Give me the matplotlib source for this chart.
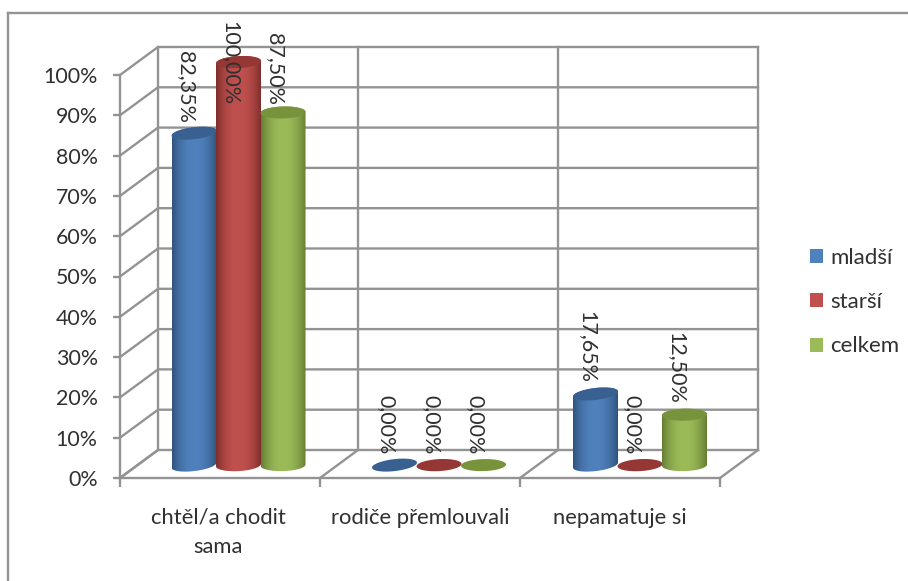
import numpy as np
import matplotlib
matplotlib.use('Agg')
import matplotlib.pyplot as plt
from matplotlib.patches import Patch, PathPatch, Polygon
from matplotlib.path import Path

categories = ['chtěl/a chodit\nsama', 'rodiče přemlouvali', 'nepamatuje si']
series_names = ['mladší', 'starší', 'celkem']
mladsi = [82.35, 0.00, 17.65]
starsi = [100.00, 0.00, 0.00]
celkem = [87.50, 0.00, 12.50]
y_ticks = [0, 10, 20, 30, 40, 50, 60, 70, 80, 90, 100]

W, H = 908, 581
colors = ['#4f81bd', '#c0504d', '#9bbb59']
dark = ['#386192', '#953735', '#77933c']
grid_c = '#939393'
text_c = '#303030'

plt.rcParams['font.family'] = ['Lato', 'DejaVu Sans']

# front plane of the 3d box is the axes: x 120-720 px, y 478-75 px
left, right, bottom, top = 120, 720, 478, 75
fig = plt.figure(figsize=(W / 100, H / 100), dpi=100)
ax = fig.add_axes([left / W, 1 - bottom / H, (right - left) / W, (bottom - top) / H])
ax.set_xlim(0, 3)
ax.set_ylim(0, 100)
ax.patch.set_visible(False)
for s in ax.spines.values():
    s.set_visible(False)

px_x = 3 / (right - left)
px_y = 100 / (bottom - top)
dx, dy = 38 * px_x, 28 * px_y


def wall_lines():
    for v in y_ticks:
        ax.plot([0, dx, 3 + dx], [v, v + dy, v + dy], color=grid_c, lw=1.7, clip_on=False, zorder=1)
    for c in range(4):
        ax.plot([c + dx, c + dx], [dy, 100 + dy], color=grid_c, lw=1.7, clip_on=False, zorder=1)
    # floor
    ax.plot([0, 3], [0, 0], color=grid_c, lw=1.7, clip_on=False, zorder=1)
    for c in range(4):
        ax.plot([c, c + dx], [0, dy], color=grid_c, lw=1.7, clip_on=False, zorder=1)
    ax.plot([0, 0], [0, 100], color=grid_c, lw=1.7, clip_on=False, zorder=1)


def ellipse_pts(cx, cy, w, h, tilt, t):
    return cx + w * np.cos(t), cy + h * np.sin(t) + tilt * np.cos(t)


def cylinder(cx, val, i, label):
    w = 22.5 * px_x
    h = 6 * px_y
    tilt = [2.5, 1.2, 0.6][i] * px_y
    base = 3.2
    z = 3 + cx
    if val > 0:
        t_low = np.linspace(np.pi, 2 * np.pi, 40)
        t_up = np.linspace(0, np.pi, 40)
        bx, by = ellipse_pts(cx, base, w, h, tilt, t_low)
        ux, uy = ellipse_pts(cx, base + val, w, h, tilt, t_up)
        verts = np.column_stack([np.r_[bx, ux], np.r_[by, uy]])
        body = Polygon(verts, closed=True, fc='none', ec='none')
        ax.add_patch(body)
        body.set_clip_on(False)
        shade = np.abs(np.linspace(-1, 1, 90)) ** 2.2
        rgb = np.array(matplotlib.colors.to_rgb(colors[i]))
        drk = np.array(matplotlib.colors.to_rgb(dark[i])) * 0.85
        img = (rgb * (1 - shade[:, None]) + drk * shade[:, None])[None, :, :]
        im = ax.imshow(img, extent=[cx - w, cx + w, base - h - 1, base + val + h + 1], aspect='auto',
                       zorder=z, interpolation='bilinear')
        im.set_clip_box(fig.bbox)
        im.set_clip_path(body)
    t = np.linspace(0, 2 * np.pi, 80)
    ex, ey = ellipse_pts(cx, base + val, w, h, tilt, t)
    ax.add_patch(PathPatch(Path(np.column_stack([ex, ey])), fc=dark[i], ec='none', clip_on=False, zorder=z + 0.01))
    # data labels sit above the cylinder, the tallest one is pushed down to stay in the frame
    ax.text(cx - 8 * px_x, min(base + val + 2.6, 92.6), label, rotation=270, ha='center', va='bottom',
            fontsize=15.5, color=text_c, clip_on=False, zorder=20)


wall_lines()

# bars
centres = [0.5925, 1.595, 2.6]
spacing = 44.5 * px_x
for i, vals in enumerate([mladsi, starsi, celkem]):
    for c, v in zip(centres, vals):
        cylinder(c + (i - 1) * spacing, v, i, f'{v:.2f}%'.replace('.', ','))

ax.set_xlim(0, 3)
ax.set_ylim(0, 100)

# axes
ax.set_yticks(y_ticks)
ax.set_yticklabels([f'{v}%' for v in y_ticks], fontsize=15.4, color=text_c)
ax.set_xticks([0, 1, 2, 3])
ax.set_xticklabels([])
ax.tick_params(axis='y', length=5, width=1.7, color=grid_c, pad=11)
ax.tick_params(axis='x', length=6.5, width=1.7, color=grid_c)
for c, name in zip([0.49, 1.5, 2.5], categories):
    ax.annotate(name, (c, 0), xytext=(0, -21.5), textcoords='offset points', ha='center', va='top',
                fontsize=15.8, color=text_c, linespacing=1.6, annotation_clip=False)

# chart frame, open on the bottom and right
fig.add_artist(plt.Line2D([8 / W, 8 / W], [0, 1 - 13 / H], color=grid_c, lw=1.7))
fig.add_artist(plt.Line2D([8 / W, 1], [1 - 13 / H, 1 - 13 / H], color=grid_c, lw=1.7))

handles = [Patch(fc=c, ec='none', label=n) for c, n in zip(colors, series_names)]
fig.legend(handles=handles, loc='center left', bbox_to_anchor=(810 / W, 1 - 302 / H), frameon=False,
           fontsize=16, labelcolor=text_c, handlelength=0.6, handleheight=0.6, handletextpad=0.3,
           labelspacing=1.1, borderpad=0, borderaxespad=0)

fig.savefig('out.png', dpi=100)
